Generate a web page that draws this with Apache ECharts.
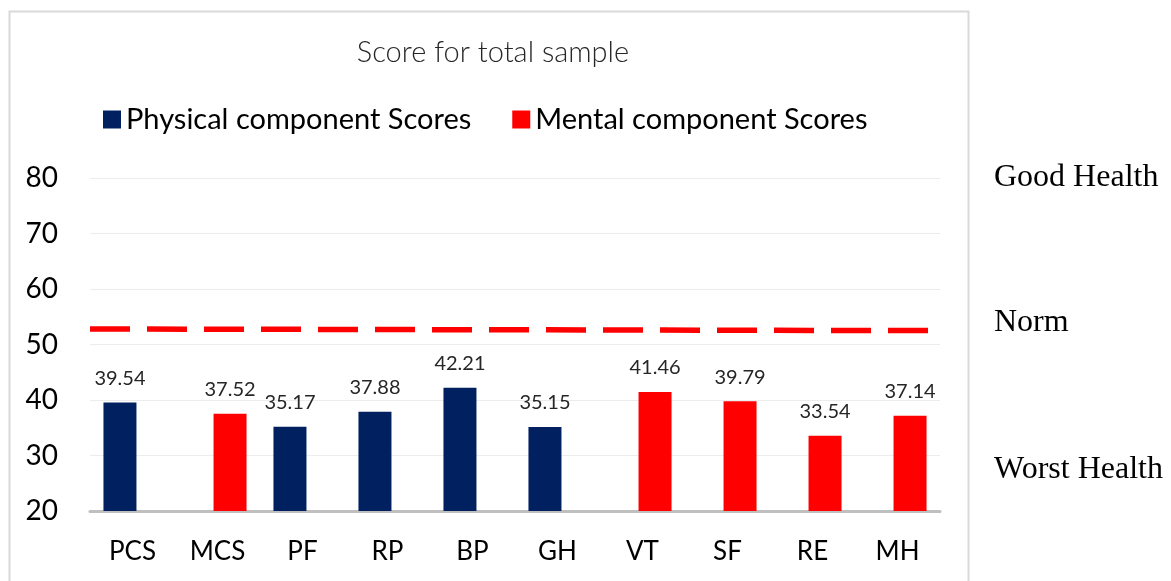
<!DOCTYPE html>
<html>
<head>
<meta charset="utf-8">
<script src="https://cdn.jsdelivr.net/npm/echarts@6/dist/echarts.min.js"></script>
<style>
  html, body { margin: 0; padding: 0; background: #fff; }
  #chart { width: 1171px; height: 581px; }
</style>
</head>
<body>
<div id="chart"></div>
<script>
  // categories and scores
  var categories = ['PCS', 'MCS', 'PF', 'RP', 'BP', 'GH', 'VT', 'SF', 'RE', 'MH']
  var physical = [39.54, null, 35.17, 37.88, 42.21, 35.15, null, null, null, null]
  var mental = [null, 37.52, null, null, null, null, 41.46, 39.79, 33.54, 37.14]
  // norm line, start and end value
  var normLine = [[0, 52.8], [1, 52.5]]
  var yTicks = {min: 20, max: 80, interval: 10}

  var font = 'Lato, "Open Sans", sans-serif'
  var serif = '"Liberation Serif", serif'
  var chart = echarts.init(document.getElementById('chart'))

  var labelStyle = {
    show: true,
    position: 'top',
    distance: 14,
    fontSize: 20,
    fontFamily: font,
    color: '#262626'
  }

  var option = {
    animation: false,
    title: {
      text: 'Score for total sample',
      left: 488,
      textAlign: 'center',
      top: 33,
      textStyle: {fontSize: 29, fontWeight: 300, fontFamily: font, color: '#262626'}
    },
    legend: {
      top: 100,
      left: 98,
      itemWidth: 18,
      itemHeight: 18,
      itemGap: 41,
      icon: 'rect',
      data: ['Physical component Scores', 'Mental component Scores'],
      textStyle: {fontSize: 29, fontFamily: font, color: '#000'}
    },
    grid: {left: 90, right: 231, top: 178, bottom: 70},
    xAxis: [
      {
        type: 'category',
        data: categories,
        axisLine: {lineStyle: {color: '#bfbfbf', width: 3}},
        axisTick: {show: false},
        axisLabel: {fontSize: 26, fontFamily: font, color: '#000', margin: 28}
      },
      {
        type: 'value',
        min: 0,
        max: 1,
        show: false
      }
    ],
    yAxis: {
      type: 'value',
      min: yTicks.min,
      max: yTicks.max,
      interval: yTicks.interval,
      axisLine: {show: false},
      axisTick: {show: false},
      splitLine: {lineStyle: {color: '#ececec', width: 1}},
      axisLabel: {fontSize: 28, fontFamily: font, color: '#000', margin: 32}
    },
    series: [
      {
        name: 'Physical component Scores',
        type: 'bar',
        data: physical,
        barWidth: 33,
        barGap: '-24%',
        itemStyle: {color: '#002060'},
        label: labelStyle
      },
      {
        name: 'Mental component Scores',
        type: 'bar',
        data: mental,
        barWidth: 33,
        itemStyle: {color: '#ff0000'},
        label: labelStyle
      },
      {
        name: 'Norm',
        type: 'line',
        xAxisIndex: 1,
        data: normLine,
        symbol: 'none',
        lineStyle: {color: '#ff0000', width: 5.5, type: [40, 17]},
        z: 5
      }
    ],
    graphic: [
      {
        type: 'rect',
        shape: {x: 9.5, y: 11.5, width: 959, height: 620},
        style: {fill: 'none', stroke: '#d9d9d9', lineWidth: 2},
        silent: true
      },
      {
        type: 'text',
        x: 994,
        y: 178,
        style: {text: 'Good Health', fontSize: 32, fontFamily: serif, fill: '#000', verticalAlign: 'middle'}
      },
      {
        type: 'text',
        x: 994,
        y: 323,
        style: {text: 'Norm', fontSize: 32, fontFamily: serif, fill: '#000', verticalAlign: 'middle'}
      },
      {
        type: 'text',
        x: 994,
        y: 470,
        style: {text: 'Worst Health', fontSize: 32, fontFamily: serif, fill: '#000', verticalAlign: 'middle'}
      }
    ]
  }

  chart.setOption(option)
</script>
</body>
</html>
